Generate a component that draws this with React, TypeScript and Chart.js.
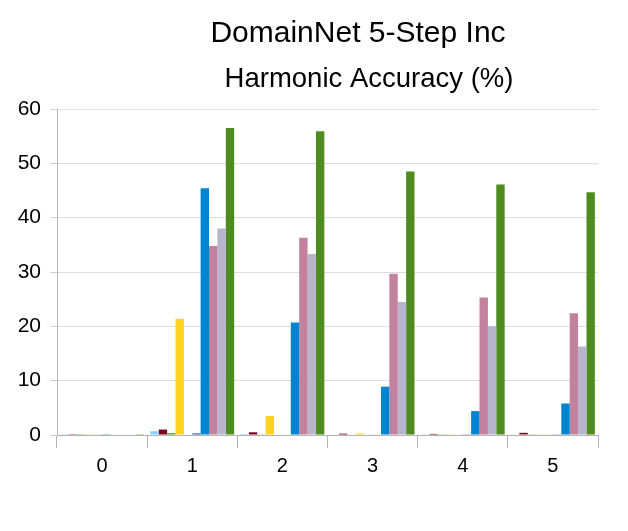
import React, { useEffect, useRef } from "react";
import { Chart, registerables } from "chart.js";

Chart.register(...registerables);

const categories = ["0", "1", "2", "3", "4", "5"];
const titleText = "DomainNet 5-Step Inc";
const subtitleText = "Harmonic Accuracy (%)";

const s1 = [0.15, 0.7, 0.2, 0.1, 0.05, 0.05];
const s2 = [0.15, 1.0, 0.5, 0.25, 0.2, 0.4];
const s3 = [0.15, 0.35, 0.05, 0.1, 0.05, 0.05];
const s4 = [0.15, 21.4, 3.5, 0.3, 0.05, 0.05];
const s5 = [0.15, 0.1, 0.1, 0.15, 0.05, 0.05];
const s6 = [0.15, 0.3, 0.1, 0.1, 0.05, 0.05];
const s7 = [0.1, 45.4, 20.7, 8.9, 4.4, 5.8];
const s8 = [0.1, 34.8, 36.3, 29.7, 25.3, 22.4];
const s9 = [0.1, 38.0, 33.3, 24.5, 20.0, 16.3];
const s10 = [0.15, 56.5, 55.9, 48.5, 46.1, 44.7];

const seriesValues = [s1, s2, s3, s4, s5, s6, s7, s8, s9, s10];
const seriesColors = [
  "#8ccdff",
  "#7e0021",
  "#5ea32b",
  "#ffd320",
  "#f5c9b8",
  "#2e5c99",
  "#0084d1",
  "#c2829e",
  "#b8b4cc",
  "#4e8c1f",
];

const titlePlugin = {
  id: "customTitles",
  afterDraw(chart: any) {
    const ctx = chart.ctx;
    ctx.save();
    ctx.fillStyle = "#000000";
    ctx.textAlign = "center";
    ctx.textBaseline = "alphabetic";
    ctx.font = "30px 'Liberation Sans', Arial, sans-serif";
    ctx.fillText(titleText, 358, 42);
    ctx.font = "27.5px 'Liberation Sans', Arial, sans-serif";
    ctx.fillText(subtitleText, 369, 87);
    ctx.restore();
  },
};

export default function App() {
  const ref = useRef<HTMLCanvasElement>(null);
  useEffect(() => {
    if (!ref.current) return;
    const chart = new Chart(ref.current, {
      type: "bar",
      data: {
        labels: categories,
        datasets: seriesValues.map((v, i) => ({
          label: "S" + (i + 1),
          data: v,
          backgroundColor: seriesColors[i],
          borderWidth: 0,
          categoryPercentage: 0.93,
          barPercentage: 1,
        })),
      },
      options: {
        responsive: false,
        animation: false,
        layout: { padding: { top: 109, right: 30, bottom: 0, left: 0 } },
        plugins: {
          legend: { display: false },
          title: { display: false },
          tooltip: { enabled: false },
        },
        scales: {
          x: {
            offset: true,
            afterFit: (s: any) => {
              s.height = 96;
            },
            grid: {
              offset: true,
              drawOnChartArea: false,
              drawTicks: true,
              tickLength: 13,
              tickColor: "#b3b3b3",
            },
            border: { display: true, color: "#b3b3b3" },
            ticks: {
              color: "#000000",
              padding: 6,
              font: { family: "'Liberation Sans', Arial, sans-serif", size: 20 },
            },
          },
          y: {
            min: 0,
            max: 60,
            afterFit: (s: any) => {
              s.width = 57;
            },
            grid: {
              color: "#dddddd",
              tickLength: 7,
              tickColor: "#d0d0d0",
            },
            border: { display: true, color: "#b3b3b3" },
            ticks: {
              stepSize: 10,
              color: "#000000",
              padding: 9,
              font: { family: "'Liberation Sans', Arial, sans-serif", size: 21 },
            },
          },
        },
      },
      plugins: [titlePlugin],
    });
    return () => chart.destroy();
  }, []);
  return (
    <div style={{ position: "absolute", left: 0, top: 0, width: 628, height: 531, background: "#ffffff" }}>
      <canvas ref={ref} width={628} height={531} style={{ width: 628, height: 531 }} />
    </div>
  );
}
